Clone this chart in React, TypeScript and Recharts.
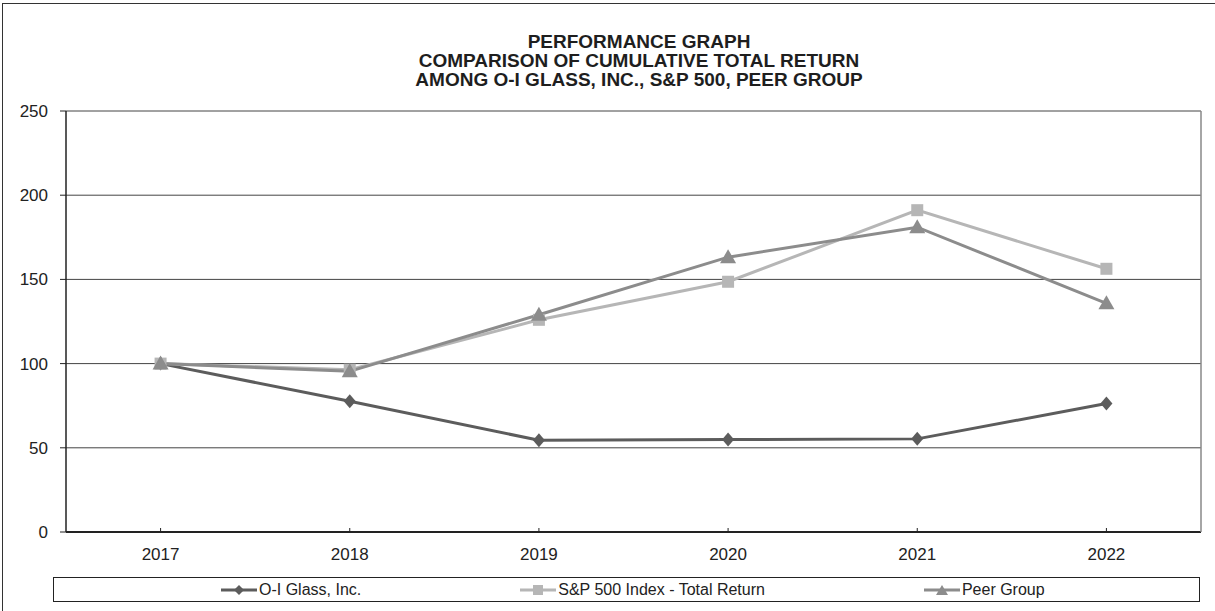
import { CartesianGrid, Legend, Line, LineChart, XAxis, YAxis } from "recharts";

const years = ["2017", "2018", "2019", "2020", "2021", "2022"];
const oiGlass = [100, 77.6, 54.5, 54.9, 55.3, 76.3];
const sp500 = [100, 96.4, 126, 148.6, 191.1, 156.3];
const peerGroup = [100, 95.4, 129, 163.2, 181, 135.8];
const yTicks = [0, 50, 100, 150, 200, 250];

const titleLines = [
  "PERFORMANCE GRAPH",
  "COMPARISON OF CUMULATIVE TOTAL RETURN",
  "AMONG O-I GLASS, INC., S&P 500, PEER GROUP",
];

const chartData = years.map((y, i) => ({
  year: y,
  oi: oiGlass[i],
  sp: sp500[i],
  peer: peerGroup[i],
}));

const FONT = '"Liberation Sans", Arial, sans-serif';
const C_OI = "#5c5c5c";
const C_SP = "#b6b6b6";
const C_PEER = "#8c8c8c";

function Marker({ kind, cx, cy, color }: { kind: string; cx: number; cy: number; color: string }) {
  if (kind === "diamond") {
    return <polygon points={`${cx},${cy - 7} ${cx + 6},${cy} ${cx},${cy + 7} ${cx - 6},${cy}`} fill={color} />;
  }
  if (kind === "square") {
    return <rect x={cx - 6} y={cy - 6} width={12} height={12} fill={color} />;
  }
  return <polygon points={`${cx},${cy - 8} ${cx + 8},${cy + 6} ${cx - 8},${cy + 6}`} fill={color} />;
}

const dotFor = (kind: string, color: string) => (p: any) =>
  <Marker key={`${kind}-${p.index}`} kind={kind} cx={p.cx} cy={p.cy} color={color} />;

// x-axis tick: short mark pointing up into the plot, label below
function YearTick({ x, y, payload }: any) {
  return (
    <g>
      <line x1={x} y1={y - 4} x2={x} y2={y - 1} stroke="#222" />
      <text x={x} y={y + 28} textAnchor="middle" fontSize={17} fill="#222" fontFamily={FONT}>
        {payload.value}
      </text>
    </g>
  );
}

// legend order as in the original, not alphabetical
const legendItems = [
  { key: "oi", kind: "diamond", color: C_OI },
  { key: "sp", kind: "square", color: C_SP },
  { key: "peer", kind: "triangle", color: C_PEER },
];

function LegendBox({ payload }: any) {
  const names: Record<string, string> = {};
  (payload || []).forEach((e: any) => (names[e.dataKey] = e.value));
  return (
    <div
      style={{
        border: "1px solid #222",
        height: 25,
        display: "flex",
        alignItems: "center",
        paddingLeft: 167,
        gap: 159,
        boxSizing: "border-box",
        fontFamily: FONT,
        fontSize: 16,
        color: "#222",
      }}
    >
      {legendItems.map((item) => (
        <div key={item.key} style={{ display: "flex", alignItems: "center" }}>
          <svg width={36} height={12} style={{ marginRight: 2 }}>
            <line x1={0} y1={6} x2={36} y2={6} stroke={item.color} strokeWidth={3} />
            {item.kind === "diamond" && <polygon points="18,1 23,6 18,11 13,6" fill={item.color} />}
            {item.kind === "square" && <rect x={13} y={1} width={10} height={10} fill={item.color} />}
            {item.kind === "triangle" && <polygon points="18,1 24,11 12,11" fill={item.color} />}
          </svg>
          <span>{names[item.key]}</span>
        </div>
      ))}
    </div>
  );
}

export default function App() {
  return (
    <div
      style={{
        position: "absolute",
        left: 0,
        top: 0,
        width: 1215,
        height: 611,
        overflow: "hidden",
        background: "#fff",
        fontFamily: FONT,
      }}
    >
      <div
        style={{
          position: "absolute",
          left: 2,
          top: 3,
          right: -10,
          bottom: -10,
          border: "1px solid #333",
        }}
      />
      <div
        style={{
          position: "absolute",
          left: 289,
          top: 32,
          width: 700,
          textAlign: "center",
          fontWeight: "bold",
          fontSize: 19,
          lineHeight: "19px",
          color: "#1e1e1e",
        }}
      >
        {titleLines.map((t) => (
          <div key={t}>{t}</div>
        ))}
      </div>
      <div style={{ position: "absolute", left: 0, top: 0 }}>
        <LineChart
          width={1215}
          height={611}
          data={chartData}
          margin={{ top: 111, right: 0, bottom: 48, left: 0 }}
        >
          <CartesianGrid vertical={false} stroke="#444" strokeWidth={1} />
          <XAxis
            dataKey="year"
            scale="band"
            height={31}
            axisLine={{ stroke: "#222", strokeWidth: 2 }}
            tickLine={false}
            tickSize={0}
            tickMargin={0}
            tick={<YearTick />}
          />
          <YAxis
            domain={[0, 250]}
            ticks={yTicks}
            width={66}
            axisLine={{ stroke: "#222", strokeWidth: 1.5 }}
            tickLine={{ stroke: "#222" }}
            tickSize={6}
            tickMargin={12}
            tick={{ fontSize: 17, fill: "#222", fontFamily: FONT }}
            interval={0}
          />
          <YAxis
            yAxisId="frame"
            orientation="right"
            domain={[0, 250]}
            width={14}
            tick={false}
            tickLine={false}
            axisLine={{ stroke: "#888", strokeWidth: 1.5 }}
          />
          <Legend
            verticalAlign="middle"
            wrapperStyle={{ top: 577, left: 53, width: 1147, height: 25 }}
            content={<LegendBox />}
          />
          <Line
            dataKey="oi"
            name="O-I Glass, Inc."
            stroke={C_OI}
            strokeWidth={3}
            dot={dotFor("diamond", C_OI)}
            activeDot={false}
            isAnimationActive={false}
          />
          <Line
            dataKey="sp"
            name="S&P 500 Index - Total Return"
            stroke={C_SP}
            strokeWidth={3}
            dot={dotFor("square", C_SP)}
            activeDot={false}
            isAnimationActive={false}
          />
          <Line
            dataKey="peer"
            name="Peer Group"
            stroke={C_PEER}
            strokeWidth={3}
            dot={dotFor("triangle", C_PEER)}
            activeDot={false}
            isAnimationActive={false}
          />
        </LineChart>
      </div>
    </div>
  );
}
